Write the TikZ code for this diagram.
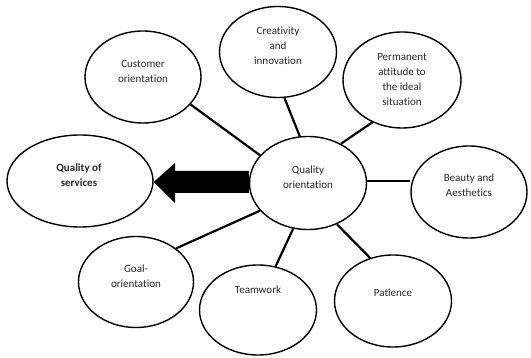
\documentclass[tikz,border=0pt]{standalone}
\usepackage{fontspec}
\setmainfont[Ligatures=NoCommon]{Carlito}
\usetikzlibrary{shapes.geometric}
\begin{document}
\begin{tikzpicture}[x=1pt,y=-1pt,
  bubble/.style={draw=black,line width=1.4pt,ellipse,inner sep=0pt},
  label/.style={align=center,font=\fontsize{11}{15}\selectfont,text=black!85},
  link/.style={line width=2.2pt,black}]
\useasboundingbox (0,0) rectangle (531,358);
% outer bubbles
\node[bubble,minimum width=116pt,minimum height=92pt] (cust) at (143,77) {};
\node[bubble,minimum width=117pt,minimum height=91pt] (crea) at (278,52) {};
\node[bubble,minimum width=118pt,minimum height=96pt] (perm) at (402,80) {};
\node[bubble,minimum width=117pt,minimum height=93pt] (qual) at (308,183) {};
\node[bubble,minimum width=146pt,minimum height=92pt] (serv) at (80,181) {};
\node[bubble,minimum width=116pt,minimum height=92pt] (beau) at (469,192) {};
\node[bubble,minimum width=115pt,minimum height=91pt] (goal) at (136,282) {};
\node[bubble,minimum width=117pt,minimum height=90pt] (team) at (258,310) {};
\node[bubble,minimum width=117pt,minimum height=92pt] (pati) at (393,301) {};
% texts
\node[label] (tcust) at (143,71) {Customer\\orientation};
\node[label] (tcrea) at (278,46) {Creativity\\and\\innovation};
\node[label] (tperm) at (402,79.5) {Permanent\\attitude to\\the ideal\\situation};
\node[label] (tqual) at (308,177) {Quality\\orientation};
\node[label,font=\fontsize{11}{15.5}\selectfont\bfseries] (tserv) at (79,175) {Quality of\\services};
\node[label] (tbeau) at (469,185.5) {Beauty and\\Aesthetics};
\node[label] (tgoal) at (136,276.5) {Goal-\\orientation};
\node[label] (tteam) at (258,290) {Teamwork};
\node[label] (tpati) at (393,293) {Patience};
% connectors
\draw[link] (cust.-30) -- (qual.150);
\draw[link] (crea.-82) -- (qual.100);
\draw[link] (perm.-125) -- (qual.50);
\draw[link] (qual.east |- 0,181) -- (beau.west |- 0,181);
\draw[link] (goal.40) -- (qual.-150);
\draw[link] (team.68) -- (qual.-108);
\draw[link] (pati.118) -- (qual.-55);
% big arrow towards quality of services
\fill[black] (qual.west |- 0,171) -- (175,171) -- (175,163) -- (serv.east |- 0,182)
  -- (175,203) -- (175,193) -- (qual.west |- 0,193) -- cycle;
\end{tikzpicture}
\end{document}
